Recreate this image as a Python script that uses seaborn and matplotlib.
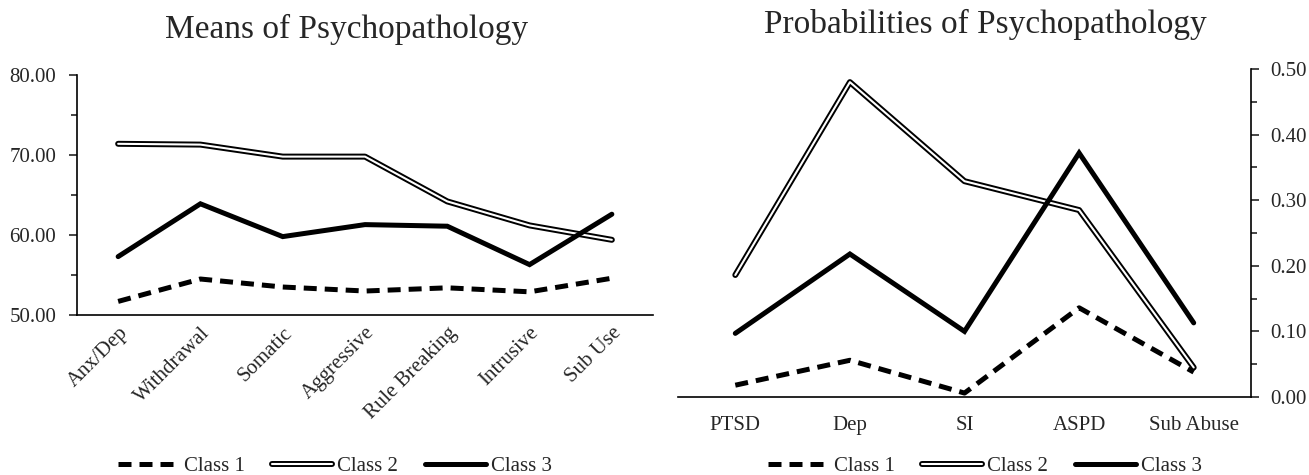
import matplotlib
matplotlib.use("Agg")
import matplotlib.pyplot as plt
import matplotlib.patheffects as pe
from matplotlib.ticker import MultipleLocator, FormatStrFormatter
import seaborn as sns
import pandas as pd

# data
means_labels = ["Anx/Dep", "Withdrawal", "Somatic", "Aggressive", "Rule Breaking", "Intrusive", "Sub Use"]
means_class1 = [51.7, 54.5, 53.5, 53.0, 53.4, 52.9, 54.6]
means_class2 = [71.4, 71.3, 69.8, 69.8, 64.2, 61.2, 59.4]
means_class3 = [57.3, 63.9, 59.8, 61.3, 61.1, 56.3, 62.6]

prob_labels = ["PTSD", "Dep", "SI", "ASPD", "Sub Abuse"]
prob_class1 = [0.018, 0.056, 0.006, 0.136, 0.038]
prob_class2 = [0.186, 0.480, 0.329, 0.285, 0.045]
prob_class3 = [0.097, 0.218, 0.100, 0.372, 0.113]

class_names = ["Class 1", "Class 2", "Class 3"]

sns.set_style("white")
plt.rcParams['font.family'] = ['Liberation Serif', 'DejaVu Serif']
plt.rcParams['font.size'] = 15

fig = plt.figure(figsize=(13.09, 4.75), dpi=100)
ax1 = fig.add_axes([77 / 1309, 0.3368, 576 / 1309, 0.5053])
ax2 = fig.add_axes([678 / 1309, 0.1642, 573 / 1309, 0.6905])

styles = [
    dict(color="black", linewidth=3.6, linestyle=(0, (2.6, 1.6)), dash_capstyle="butt"),
    dict(color="white", linewidth=1.5, solid_capstyle="round",
         path_effects=[pe.Stroke(linewidth=4.3, foreground="black"), pe.Normal()]),
    dict(color="black", linewidth=3.6, solid_capstyle="round", solid_joinstyle="miter"),
]


def draw(ax, labels, series):
    for name, vals, st in zip(class_names, series, styles):
        df = pd.DataFrame({"cat": labels, "val": vals})
        sns.lineplot(data=df, x="cat", y="val", ax=ax, sort=False, label=name, **st)
    ax.set_xlabel("")
    ax.set_ylabel("")
    ax.set_xlim(-0.5, len(labels) - 0.5)
    ax.grid(False)
    for s in ax.spines.values():
        s.set_linewidth(1.2)
        s.set_color("black")


# left panel
draw(ax1, means_labels, [means_class1, means_class2, means_class3])
ax1.set_ylim(50, 80)
ax1.yaxis.set_major_locator(MultipleLocator(10))
ax1.yaxis.set_minor_locator(MultipleLocator(5))
ax1.yaxis.set_major_formatter(FormatStrFormatter("%.2f"))
ax1.spines["top"].set_visible(False)
ax1.spines["right"].set_visible(False)
ax1.tick_params(axis="y", which="major", direction="out", length=6, width=1.2,
                left=True, labelsize=15, pad=9)
ax1.tick_params(axis="y", which="minor", direction="out", length=4, width=1.2, left=True)
ax1.tick_params(axis="x", length=0, labelsize=15, pad=6)
plt.setp(ax1.get_xticklabels(), rotation=45, ha="right", rotation_mode="anchor")

# right panel
draw(ax2, prob_labels, [prob_class1, prob_class2, prob_class3])
ax2.set_ylim(0, 0.5)
ax2.yaxis.set_major_locator(MultipleLocator(0.1))
ax2.yaxis.set_minor_locator(MultipleLocator(0.05))
ax2.yaxis.set_major_formatter(FormatStrFormatter("%.2f"))
ax2.yaxis.tick_right()
ax2.spines["top"].set_visible(False)
ax2.spines["left"].set_visible(False)
ax2.tick_params(axis="y", which="major", direction="out", length=6, width=1.2,
                right=True, left=False, labelsize=15, pad=8)
ax2.tick_params(axis="y", which="minor", direction="out", length=4, width=1.2,
                right=True, left=False)
ax2.tick_params(axis="x", length=0, labelsize=15, pad=14)

# titles
fig.text(347 / 1309, 1 - 38 / 475, "Means of Psychopathology", ha="center", va="baseline", fontsize=24)
fig.text(985 / 1309, 1 - 33 / 475, "Probabilities of Psychopathology", ha="center", va="baseline", fontsize=24)

# legends below each panel
for ax, cx in [(ax1, 335), (ax2, 985)]:
    handles, labs = ax.get_legend_handles_labels()
    if ax.get_legend() is not None:
        ax.get_legend().remove()
    fig.legend(handles, labs, loc="center", bbox_to_anchor=(cx / 1309, 1 - 466 / 475),
               ncol=3, frameon=False, fontsize=15, handlelength=2.9,
               handletextpad=0.25, columnspacing=1.3)

fig.savefig("out.png", dpi=100)
